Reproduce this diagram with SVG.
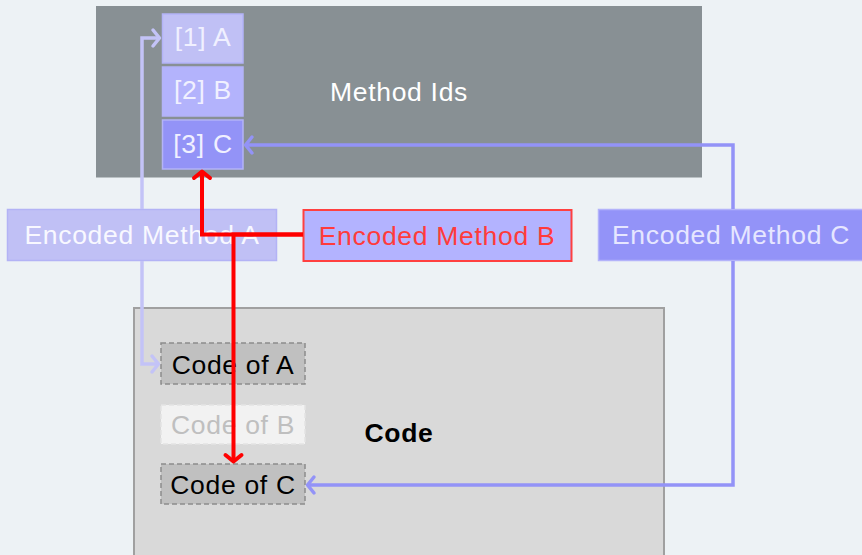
<svg xmlns="http://www.w3.org/2000/svg" width="862" height="555" viewBox="0 0 862 555">
<style>
text{font-family:"Liberation Sans",Arial,sans-serif;font-size:26.5px;letter-spacing:0.7px;text-anchor:middle}
.id{stroke:#b3b3f8;stroke-width:1.5}
.wt{fill:#f0f0ff}
.code{fill:#c0c0c0;stroke:#8c8c8c;stroke-width:1.5;stroke-dasharray:5 3}
.conn{fill:none;stroke-linejoin:miter}
</style>
<defs>
<marker id="mA" markerUnits="userSpaceOnUse" viewBox="-12 -12 24 24" markerWidth="24" markerHeight="24" refX="0" refY="0" orient="auto"><path d="M-6.5,-8 L0,0 L-6.5,8" fill="none" stroke="#c3c3f7" stroke-width="3.5" stroke-linecap="round" stroke-linejoin="round"/></marker>
<marker id="mB" markerUnits="userSpaceOnUse" viewBox="-12 -12 24 24" markerWidth="24" markerHeight="24" refX="0" refY="0" orient="auto"><path d="M-6.5,-8 L0,0 L-6.5,8" fill="none" stroke="#ff0000" stroke-width="4" stroke-linecap="round" stroke-linejoin="round"/></marker>
<marker id="mC" markerUnits="userSpaceOnUse" viewBox="-12 -12 24 24" markerWidth="24" markerHeight="24" refX="0" refY="0" orient="auto"><path d="M-6.5,-8 L0,0 L-6.5,8" fill="none" stroke="#9393f7" stroke-width="3.5" stroke-linecap="round" stroke-linejoin="round"/></marker>
</defs>
<rect width="862" height="555" fill="#edf2f5"/>
<g id="method-ids">
<rect x="96" y="6" width="606" height="171.5" fill="#889094"/>
<text x="399" y="101" fill="#ffffff">Method Ids</text>
</g>
<g id="id1"><rect class="id" x="162.5" y="14" width="80.5" height="49" fill="#c0c0f5"/><text class="wt" x="203" y="46">[1] A</text></g>
<g id="id2"><rect class="id" x="162.5" y="67" width="80.5" height="49" fill="#b3b3fc"/><text class="wt" x="203" y="99">[2] B</text></g>
<g id="id3"><rect class="id" x="162.5" y="120" width="80.5" height="49" fill="#9393f7"/><text class="wt" x="203" y="153">[3] C</text></g>
<g id="code-region">
<rect x="134" y="308" width="530" height="260" fill="#d9d9d9" stroke="#a0a0a0" stroke-width="2"/>
<text x="399" y="442" fill="#000000" font-weight="bold">Code</text>
</g>
<g id="codeA"><rect class="code" x="161" y="343" width="144" height="41"/><text x="233" y="374" fill="#000000">Code of A</text></g>
<g id="codeB"><rect x="161" y="405" width="144" height="39" fill="#f2f2f2" stroke="#e3e3e3" stroke-width="1.5" stroke-dasharray="5 3"/><text x="233" y="434" fill="#bfbfbf">Code of B</text></g>
<g id="codeC"><rect class="code" x="161" y="464" width="144" height="40"/><text x="233" y="494" fill="#000000">Code of C</text></g>
<g id="encA"><rect x="7.5" y="209.5" width="269" height="51" fill="#c0c0f5" stroke="#b3b3f5" stroke-width="1.5"/><text x="142" y="244" fill="#f8f8ff">Encoded Method A</text></g>
<g id="encB"><rect x="303.5" y="210" width="268" height="51" fill="#b3b3ff" stroke="#ff4040" stroke-width="2"/><text x="437" y="245" fill="#ff3b3b">Encoded Method B</text></g>
<g id="encC"><rect x="598.5" y="209.5" width="268" height="51" fill="#9393f8" stroke="#b3b3fa" stroke-width="1.5"/><text x="731" y="244" fill="#e6e6ff">Encoded Method C</text></g>
<g id="connectors" class="conn">
<path d="M142,209 V38 H159.5" stroke="#c3c3f7" stroke-width="3.5" marker-end="url(#mA)"/>
<path d="M142,261 V364 H158.5" stroke="#c3c3f7" stroke-width="3.5" marker-end="url(#mA)"/>
<path d="M303,234.5 H202 V171.5" stroke="#ff0000" stroke-width="4" marker-end="url(#mB)"/>
<path d="M303,234.5 H233.5 V461.5" stroke="#ff0000" stroke-width="4" marker-end="url(#mB)"/>
<path d="M733,209 V145 H245.5" stroke="#9393f7" stroke-width="3.5" marker-end="url(#mC)"/>
<path d="M733,261 V485 H307.5" stroke="#9393f7" stroke-width="3.5" marker-end="url(#mC)"/>
</g>
</svg>
